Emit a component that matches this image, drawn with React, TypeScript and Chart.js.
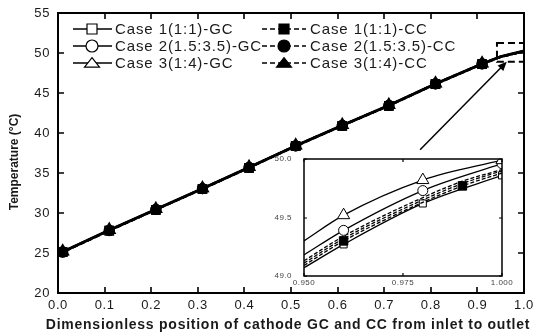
import React, { useEffect, useRef } from 'react';
import { Chart, registerables } from 'chart.js';
Chart.register(...registerables);

// ---------- data ----------
const seriesNames = [
  'Case 1(1:1)-GC',
  'Case 2(1.5:3.5)-GC',
  'Case 3(1:4)-GC',
  'Case 1(1:1)-CC',
  'Case 2(1.5:3.5)-CC',
  'Case 3(1:4)-CC',
];

const xMain = [0, 0.01, 0.11, 0.21, 0.31, 0.41, 0.51, 0.61, 0.71, 0.81, 0.91, 0.95, 1.0];
const markMain = [0, 1, 1, 1, 1, 1, 1, 1, 1, 1, 1, 0, 0];
const gc1Main = [24.95, 25.1, 27.8, 30.4, 33.0, 35.65, 38.35, 40.9, 43.4, 46.1, 48.6, 49.5, 50.2];
const gc2Main = [25.0, 25.15, 27.85, 30.45, 33.05, 35.7, 38.4, 40.95, 43.45, 46.15, 48.65, 49.55, 50.25];
const gc3Main = [25.05, 25.2, 27.9, 30.5, 33.1, 35.75, 38.45, 41.0, 43.5, 46.2, 48.7, 49.6, 50.3];
const cc1Main = [24.95, 25.1, 27.8, 30.4, 33.0, 35.65, 38.35, 40.9, 43.4, 46.1, 48.6, 49.5, 50.2];
const cc2Main = [25.0, 25.1, 27.8, 30.45, 33.05, 35.7, 38.4, 40.95, 43.45, 46.15, 48.65, 49.5, 50.2];
const cc3Main = [25.0, 25.15, 27.85, 30.45, 33.05, 35.7, 38.4, 40.95, 43.45, 46.15, 48.65, 49.55, 50.25];

const xTickStep = 0.1;
const yTickStep = 5;

const xInsetGC = [0.95, 0.96, 0.98, 1.0];
const markInsetGC = [0, 1, 1, 1];
const gc1Inset = [49.07, 49.27, 49.62, 49.86];
const gc2Inset = [49.18, 49.39, 49.73, 49.96];
const gc3Inset = [49.3, 49.52, 49.82, 49.99];
const xInsetCC = [0.95, 0.96, 0.98, 0.99, 1.0];
const markInsetCC1 = [0, 1, 0, 1, 0];
const cc1Inset = [49.09, 49.3, 49.63, 49.77, 49.88];
const cc2Inset = [49.11, 49.32, 49.65, 49.79, 49.9];
const cc3Inset = [49.13, 49.34, 49.67, 49.81, 49.91];

// zoom window and arrow (data coordinates)
const zoomBox = { x0: 0.942, x1: 1.0, y0: 48.9, y1: 51.25 };
const arrow = { x0: 0.777, y0: 37.9, x1: 0.963, y1: 48.9 };

const FONT = '"Liberation Sans", Arial, sans-serif';
const TEXT = '#1a1a1a';

const pts = (xs: number[], ys: number[]) => xs.map((x, i) => ({ x, y: ys[i] }));

function drawMarker(ctx: CanvasRenderingContext2D, style: string, x: number, y: number, r: number, filled: boolean) {
  ctx.beginPath();
  if (style === 'rect') {
    ctx.rect(x - r, y - r, 2 * r, 2 * r);
  } else if (style === 'circle') {
    ctx.arc(x, y, r, 0, Math.PI * 2);
  } else {
    ctx.moveTo(x, y - r * 0.9);
    ctx.lineTo(x + r * 1.25, y + r * 0.7);
    ctx.lineTo(x - r * 1.25, y + r * 0.7);
    ctx.closePath();
  }
  ctx.fillStyle = filled ? '#000' : '#fff';
  ctx.fill();
  ctx.lineWidth = 1.2;
  ctx.strokeStyle = '#000';
  ctx.stroke();
}

const noPad = (s: any) => {
  s.paddingLeft = 0;
  s.paddingRight = 0;
  s.paddingTop = 0;
  s.paddingBottom = 0;
};

const mainDecor = {
  id: 'mainDecor',
  beforeDraw(chart: any) {
    chart.ctx.letterSpacing = '0.6px';
  },
  afterDraw(chart: any) {
    const { ctx, chartArea: a, scales } = chart;
    const x = scales.x, y = scales.y;
    ctx.save();
    ctx.letterSpacing = '0px';
    ctx.strokeStyle = '#000';
    // frame
    ctx.lineWidth = 2;
    ctx.strokeRect(a.left, a.top, a.right - a.left, a.bottom - a.top);
    // inward ticks
    ctx.lineWidth = 1.6;
    ctx.beginPath();
    for (const t of x.ticks) {
      const px = Math.round(x.getPixelForValue(t.value));
      ctx.moveTo(px, a.bottom); ctx.lineTo(px, a.bottom - 6);
      ctx.moveTo(px, a.top); ctx.lineTo(px, a.top + 6);
    }
    for (const t of y.ticks) {
      const py = Math.round(y.getPixelForValue(t.value));
      ctx.moveTo(a.left, py); ctx.lineTo(a.left + 6, py);
      ctx.moveTo(a.right, py); ctx.lineTo(a.right - 6, py);
    }
    ctx.stroke();

    // zoom box
    ctx.setLineDash([7, 4]);
    ctx.lineWidth = 2;
    const bx0 = x.getPixelForValue(zoomBox.x0), bx1 = x.getPixelForValue(zoomBox.x1);
    const by0 = y.getPixelForValue(zoomBox.y0), by1 = y.getPixelForValue(zoomBox.y1);
    ctx.strokeRect(bx0, by1, bx1 - bx0, by0 - by1);
    ctx.setLineDash([]);

    // arrow
    const ax0 = x.getPixelForValue(arrow.x0), ay0 = y.getPixelForValue(arrow.y0);
    const ax1 = x.getPixelForValue(arrow.x1), ay1 = y.getPixelForValue(arrow.y1);
    const ang = Math.atan2(ay1 - ay0, ax1 - ax0);
    ctx.lineWidth = 1.5;
    ctx.beginPath();
    ctx.moveTo(ax0, ay0);
    ctx.lineTo(ax1 - 6 * Math.cos(ang), ay1 - 6 * Math.sin(ang));
    ctx.stroke();
    ctx.beginPath();
    ctx.moveTo(ax1, ay1);
    ctx.lineTo(ax1 - 9 * Math.cos(ang) + 4 * Math.sin(ang), ay1 - 9 * Math.sin(ang) - 4 * Math.cos(ang));
    ctx.lineTo(ax1 - 9 * Math.cos(ang) - 4 * Math.sin(ang), ay1 - 9 * Math.sin(ang) + 4 * Math.cos(ang));
    ctx.closePath();
    ctx.fillStyle = '#000';
    ctx.fill();

    // legend
    const styles = ['rect', 'circle', 'triangle'];
    const rowsY = [29, 46, 63];
    const sizes = [5, 6, 6];
    ctx.font = `15px ${FONT}`;
    ctx.textBaseline = 'middle';
    ctx.textAlign = 'left';
    for (let i = 0; i < 3; i++) {
      const ry = rowsY[i];
      // left column GC
      ctx.setLineDash([]);
      ctx.lineWidth = 1.5;
      ctx.strokeStyle = '#000';
      ctx.beginPath(); ctx.moveTo(73, ry); ctx.lineTo(112, ry); ctx.stroke();
      drawMarker(ctx, styles[i], 92, ry, sizes[i], false);
      ctx.fillStyle = TEXT;
      ctx.letterSpacing = '0.9px';
      ctx.fillText(seriesNames[i], 115, ry + 1);
      ctx.letterSpacing = '0px';
      // right column CC
      ctx.setLineDash([5, 3]);
      ctx.lineWidth = 1.5;
      ctx.beginPath(); ctx.moveTo(262, ry); ctx.lineTo(306, ry); ctx.stroke();
      ctx.setLineDash([]);
      drawMarker(ctx, styles[i], 284, ry, sizes[i], true);
      ctx.fillStyle = TEXT;
      ctx.letterSpacing = '0.9px';
      ctx.fillText(seriesNames[i + 3], 310, ry + 1);
      ctx.letterSpacing = '0px';
    }

    // axis titles
    ctx.fillStyle = TEXT;
    ctx.textAlign = 'center';
    ctx.textBaseline = 'middle';
    ctx.font = `bold 14px ${FONT}`;
    ctx.letterSpacing = '0.75px';
    ctx.fillText('Dimensionless position of cathode GC and CC from inlet to outlet', 288, 325);
    ctx.save();
    ctx.translate(15, 162);
    ctx.rotate(-Math.PI / 2);
    ctx.font = `bold 12px ${FONT}`;
    ctx.letterSpacing = '0px';
    ctx.fillText('Temperature (\u00B0C)', 0, 0);
    ctx.restore();
    ctx.restore();
  },
};

const insetDecor = {
  id: 'insetDecor',
  beforeDraw(chart: any) {
    const { ctx, chartArea: a } = chart;
    ctx.save();
    ctx.fillStyle = '#fff';
    ctx.fillRect(a.left, a.top, a.right - a.left, a.bottom - a.top);
    ctx.restore();
    ctx.letterSpacing = '0.5px';
  },
  afterDraw(chart: any) {
    const { ctx, chartArea: a, scales } = chart;
    const x = scales.x, y = scales.y;
    ctx.save();
    ctx.strokeStyle = '#000';
    ctx.lineWidth = 1.5;
    ctx.strokeRect(a.left, a.top, a.right - a.left, a.bottom - a.top);
    ctx.lineWidth = 1.2;
    ctx.beginPath();
    for (const t of x.ticks) {
      const px = Math.round(x.getPixelForValue(t.value));
      ctx.moveTo(px, a.bottom); ctx.lineTo(px, a.bottom - 3);
      ctx.moveTo(px, a.top); ctx.lineTo(px, a.top + 3);
    }
    for (const t of y.ticks) {
      const py = Math.round(y.getPixelForValue(t.value));
      ctx.moveTo(a.left, py); ctx.lineTo(a.left + 3, py);
      ctx.moveTo(a.right, py); ctx.lineTo(a.right - 3, py);
    }
    ctx.stroke();
    ctx.restore();
  },
};

function mainDataset(data: number[], style: string, filled: boolean, dashed: boolean, r: number) {
  return {
    data: pts(xMain, data),
    borderColor: '#000',
    borderWidth: 2.2,
    borderDash: dashed ? [5, 3] : [],
    pointStyle: style,
    pointRadius: markMain.map((m) => (m ? r : 0)),
    pointBackgroundColor: filled ? '#000' : '#fff',
    pointBorderColor: '#000',
    pointBorderWidth: 1.2,
    tension: 0,
  };
}

function insetDataset(xs: number[], data: number[], marks: number[], style: string, filled: boolean, dashed: boolean, r: number) {
  return {
    data: pts(xs, data),
    borderColor: '#000',
    borderWidth: 1.3,
    borderDash: dashed ? [4, 2] : [],
    pointStyle: style,
    pointRadius: marks.map((m) => (m ? r : 0)),
    pointBackgroundColor: filled ? '#000' : '#fff',
    pointBorderColor: '#000',
    pointBorderWidth: 1,
    cubicInterpolationMode: 'monotone',
  };
}

export default function App() {
  const mainRef = useRef<HTMLCanvasElement>(null);
  const insetRef = useRef<HTMLCanvasElement>(null);

  useEffect(() => {
    const main = new Chart(mainRef.current!, {
      type: 'line',
      data: {
        datasets: [
          mainDataset(cc3Main, 'triangle', true, true, 6),
          mainDataset(cc2Main, 'circle', true, true, 5),
          mainDataset(cc1Main, 'rect', true, true, 6),
          mainDataset(gc3Main, 'triangle', false, false, 7),
          mainDataset(gc2Main, 'circle', false, false, 5),
          mainDataset(gc1Main, 'rect', false, false, 6),
        ] as any,
      },
      options: {
        animation: false,
        responsive: false,
        events: [],
        layout: { padding: { top: 13, right: 14, left: 0, bottom: 0 } },
        plugins: { legend: { display: false }, tooltip: { enabled: false } },
        scales: {
          x: {
            type: 'linear',
            min: 0,
            max: 1,
            grid: { display: false, drawTicks: false },
            border: { display: false },
            ticks: {
              stepSize: xTickStep,
              padding: 5,
              color: TEXT,
              font: { family: FONT, size: 13 },
              maxRotation: 0,
              callback: (v: any) => Number(v).toFixed(1),
            },
            afterFit: (s: any) => { s.height = 43; noPad(s); },
          },
          y: {
            type: 'linear',
            min: 20,
            max: 55,
            grid: { display: false, drawTicks: false },
            border: { display: false },
            ticks: {
              stepSize: yTickStep,
              padding: 8,
              color: TEXT,
              font: { family: FONT, size: 13 },
              callback: (v: any) => String(Math.round(Number(v))),
            },
            afterFit: (s: any) => { s.width = 58; noPad(s); },
          },
        },
      } as any,
      plugins: [mainDecor],
    });

    const inset = new Chart(insetRef.current!, {
      type: 'line',
      data: {
        datasets: [
          insetDataset(xInsetCC, cc1Inset, markInsetCC1, 'rect', true, true, 6),
          insetDataset(xInsetGC, gc3Inset, markInsetGC, 'triangle', false, false, 7),
          insetDataset(xInsetGC, gc2Inset, markInsetGC, 'circle', false, false, 5),
          insetDataset(xInsetGC, gc1Inset, markInsetGC, 'rect', false, false, 5),
          insetDataset(xInsetCC, cc2Inset, [0, 0, 0, 0, 0], 'circle', true, true, 0),
          insetDataset(xInsetCC, cc3Inset, [0, 0, 0, 0, 0], 'triangle', true, true, 0),
        ] as any,
      },
      options: {
        animation: false,
        responsive: false,
        events: [],
        layout: { padding: { top: 9, right: 18, left: 0, bottom: 0 } },
        plugins: { legend: { display: false }, tooltip: { enabled: false } },
        scales: {
          x: {
            type: 'linear',
            min: 0.95,
            max: 1.0,
            grid: { display: false, drawTicks: false },
            border: { display: false },
            ticks: {
              stepSize: 0.025,
              padding: 2,
              color: '#444',
              font: { family: FONT, size: 8 },
              maxRotation: 0,
              callback: (v: any) => Number(v).toFixed(3),
            },
            afterFit: (s: any) => { s.height = 19; noPad(s); },
          },
          y: {
            type: 'linear',
            min: 49,
            max: 50,
            grid: { display: false, drawTicks: false },
            border: { display: false },
            ticks: {
              stepSize: 0.5,
              padding: 12,
              color: '#444',
              font: { family: FONT, size: 8 },
              callback: (v: any) => Number(v).toFixed(1),
            },
            afterFit: (s: any) => { s.width = 44; noPad(s); },
          },
        },
      } as any,
      plugins: [insetDecor],
    });

    return () => {
      main.destroy();
      inset.destroy();
    };
  }, []);

  return (
    <div style={{ position: 'fixed', left: 0, top: 0, width: 538, height: 336, background: '#fff' }}>
      <canvas ref={mainRef} width={538} height={336} style={{ position: 'absolute', left: 0, top: 0 }} />
      <canvas ref={insetRef} width={260} height={145} style={{ position: 'absolute', left: 260, top: 150 }} />
    </div>
  );
}
